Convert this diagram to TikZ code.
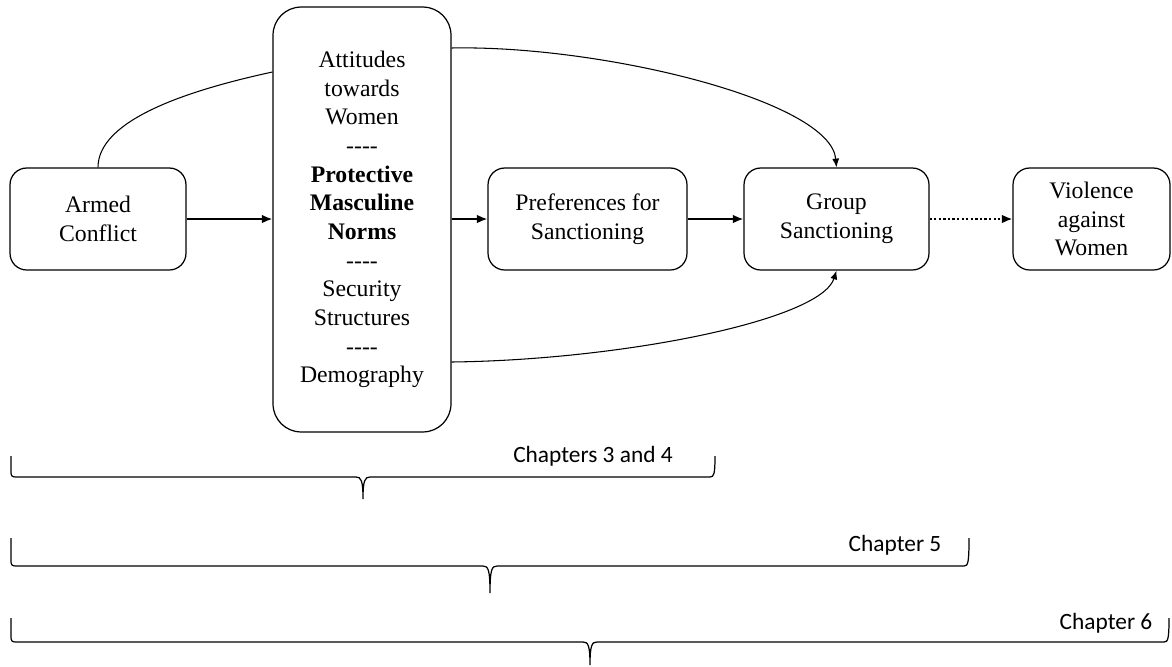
\documentclass[tikz,border=0pt]{standalone}
\usepackage{fontspec}
\setmainfont{Liberation Serif}
\newfontfamily\chapfont{Carlito}
\usetikzlibrary{calc,arrows.meta}

\tikzset{
	box/.style={draw,rounded corners=9.5pt,line width=0.7pt,align=center,inner sep=0pt,
		minimum height=2.04cm,font=\fontsize{13.5}{16.3}\selectfont},
	flow/.style={line width=1.1pt,-{Latex[length=6pt,width=5pt]}},
	curve/.style={line width=0.6pt},
	curvearr/.style={line width=0.6pt,-{Latex[length=5pt,width=4pt]}},
	chbrace/.style={line width=0.7pt},
	chlabel/.style={inner sep=0pt,font=\chapfont\fontsize{13.3}{16}\selectfont}
}

\begin{document}
\begin{tikzpicture}[x=0.02cm,y=-0.02cm]
		\useasboundingbox (0,0) rectangle (1172,666);
		\node[box,minimum width=3.52cm] (armed) at (98,219) {Armed\\Conflict};
		\node[box,rounded corners=16pt,minimum width=3.56cm,minimum height=8.5cm] (mid) at (362,219.5) {Attitudes\\towards\\Women\\-{}-{}-{}-\\\textbf{Protective}\\\textbf{Masculine}\\\textbf{Norms}\\-{}-{}-{}-\\Security\\Structures\\-{}-{}-{}-\\Demography};
		\node[box,minimum width=3.98cm] (prefs) at (587.5,219) {Preferences for\\Sanctioning};
		\node[box,minimum width=3.7cm] (group) at (836.5,219) {Group\\Sanctioning};
		\node[box,minimum width=3.14cm] (violence) at (1091.5,219) {Violence\\against\\Women};
		\draw[flow] (armed.east) -- (mid.west |- armed.east);
		\draw[flow] (mid.east |- prefs.west) -- (prefs.west);
		\draw[flow] (prefs.east) -- (group.west);
		\draw[flow,dash pattern=on 1.3pt off 1.3pt] (group.east) -- (violence.west);
		\draw[curve] (armed.north) .. controls +(0,-48) and +(-83,18) .. ($(mid.west)+(0,-147.5)$);
		\draw[curvearr] ($(mid.east)+(0,-171.5)$) .. controls +(149,-3) and +(-6,-67) .. (group.north);
		\draw[curvearr] ($(mid.east)+(0,142.5)$) .. controls +(169,-2) and +(-16,50) .. (group.south);
		\draw[chbrace] (11,456) -- (11,472) .. controls (11,476) and (12,477) .. (16,477) -- (356,477) .. controls (361,477) and (363,480) .. (363,499) .. controls (363,480) and (365,477) .. (370,477) -- (710,477) .. controls (714,477) and (715,474) .. (715,456);
		\draw[chbrace] (11,538) -- (11,561) .. controls (11,565) and (12,566) .. (16,566) -- (483,566) .. controls (488,566) and (490,569) .. (490,593) .. controls (490,569) and (492,566) .. (497,566) -- (964,566) .. controls (968,566) and (969,563) .. (969,538);
		\draw[chbrace] (11,618) -- (11,637) .. controls (11,641) and (12,642) .. (16,642) -- (583,642) .. controls (588,642) and (590,645) .. (590,665) .. controls (590,645) and (592,642) .. (597,642) -- (1164,642) .. controls (1168,642) and (1169,639) .. (1169,618);
		\node[chlabel] (ch34) at (593,456) {Chapters 3 and 4};
		\node[chlabel] (ch5) at (895,545) {Chapter 5};
		\node[chlabel] (ch6) at (1106,623) {Chapter 6};
	\end{tikzpicture}
\end{document}
